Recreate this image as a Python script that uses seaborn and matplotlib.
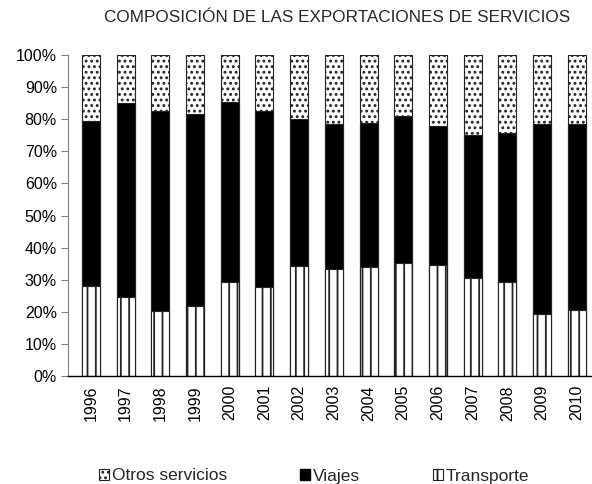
import matplotlib
matplotlib.use("Agg")
import matplotlib.pyplot as plt
import seaborn as sns
import pandas as pd
import numpy as np
from matplotlib.patches import Patch

years = ["1996", "1997", "1998", "1999", "2000", "2001", "2002", "2003",
         "2004", "2005", "2006", "2007", "2008", "2009", "2010"]
transporte = [28.0, 24.7, 20.2, 21.9, 29.2, 27.6, 34.3, 33.3, 34.0, 35.3, 34.5, 30.4, 29.3, 19.4, 20.5]
viajes = [51.5, 60.4, 62.3, 59.7, 56.2, 54.9, 45.8, 45.2, 44.8, 45.7, 43.4, 44.6, 46.5, 59.0, 58.1]
otros = [20.5, 14.9, 17.5, 18.4, 14.6, 17.5, 19.9, 21.5, 21.2, 19.0, 22.1, 25.0, 24.2, 21.6, 21.4]
title = "COMPOSICIÓN DE LAS EXPORTACIONES DE SERVICIOS"

sns.set_style("white")
plt.rcParams['font.family'] = ['Liberation Sans', 'DejaVu Sans']
plt.rcParams['hatch.linewidth'] = 1.3

df = pd.DataFrame({"year": years, "t": transporte, "v": viajes, "o": otros})
df["tv"] = df["t"] + df["v"]
df["tot"] = df["tv"] + df["o"]

fig = plt.figure(figsize=(5.92, 4.84), dpi=100)
ax = fig.add_axes([68/592, 1-376/484, (591-68)/592, (376-55)/484])

w = 0.52
common = dict(x="year", ax=ax, width=w, edgecolor="#222222", linewidth=0.8, order=years)
sns.barplot(data=df, y="tot", color="white", hatch="...", **common)
sns.barplot(data=df, y="tv", color="black", **common)
sns.barplot(data=df, y="t", color="white", hatch="||", **common)
for p in ax.patches:
    p.set_facecolor(p.get_facecolor()[:3] + (1,))

ax.set_xlim(-0.66, 14.41)
ax.set_ylim(0, 100)
ax.set_yticks(np.arange(0, 101, 10))
ax.set_yticklabels([f"{v}%" for v in range(0, 101, 10)], fontsize=11.5)
ax.set_xticks(range(len(years)))
ax.set_xticklabels(years, rotation=90, fontsize=11.5)
ax.set_xlabel("")
ax.set_ylabel("")
for s in ["top", "right"]:
    ax.spines[s].set_visible(False)
ax.spines["left"].set_color("#808080")
ax.spines["left"].set_linewidth(0.8)
ax.spines["bottom"].set_color("black")
ax.spines["bottom"].set_linewidth(1.0)
ax.tick_params(axis="y", which="major", left=True, length=5, width=0.8, color="#808080", pad=3, labelcolor="black")
ax.tick_params(axis="x", which="major", bottom=False, pad=3, labelcolor="black")

fig.text(0.569, 1-18/484, title, ha="center", va="center", fontsize=12.3)

handles = [Patch(facecolor="white", edgecolor="#222222", hatch="...", linewidth=0.8, label="Otros servicios"),
           Patch(facecolor="black", edgecolor="black", label="Viajes"),
           Patch(facecolor="white", edgecolor="#222222", hatch="||", linewidth=0.8, label="Transporte")]
fig.legend(handles=handles, loc="center", bbox_to_anchor=(314/592, 1-476/484), ncol=3,
           frameon=False, fontsize=12.5, handlelength=0.6, handleheight=0.6,
           handletextpad=0.15, columnspacing=4.2, borderpad=0)

fig.savefig("out.png", dpi=100)
